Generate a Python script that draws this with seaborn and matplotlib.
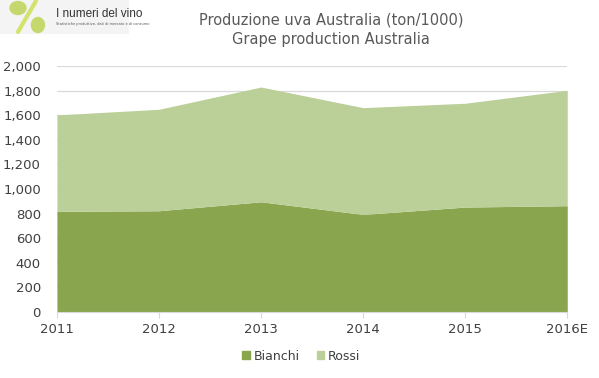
import numpy as np
import pandas as pd
import matplotlib
matplotlib.use("Agg")
import matplotlib.pyplot as plt
import seaborn as sns
from matplotlib.patches import Patch, Ellipse

years = ["2011", "2012", "2013", "2014", "2015", "2016E"]
bianchi = [818, 823, 896, 793, 853, 864]
rossi = [785, 826, 934, 869, 845, 939]

col_bianchi = "#89A54E"
col_rossi = "#BBCF99"

df = pd.DataFrame({"anno": years, "Bianchi": bianchi, "Rossi": rossi})

sns.set_style("white")
plt.rcParams["font.family"] = ["Liberation Sans Narrow", "DejaVu Sans"]

fig = plt.figure(figsize=(5.99, 3.78), dpi=100)
ax = fig.add_axes([0.095, 0.175, 0.852, 0.65])

x = np.arange(len(df))
ax.stackplot(x, df["Bianchi"], df["Rossi"], colors=[col_bianchi, col_rossi],
             linewidth=0, zorder=2)

ax.set_xlim(0, len(df) - 1)
ax.set_ylim(0, 2000)
ax.set_yticks(np.arange(0, 2001, 200))
ax.set_yticklabels([f"{v:,}" for v in range(0, 2001, 200)])
ax.set_xticks(x)
ax.set_xticklabels(df["anno"])
ax.yaxis.grid(True, color="#D9D9D9", linewidth=0.9, zorder=0)
ax.set_axisbelow(True)

for s in ["top", "right", "left"]:
    ax.spines[s].set_visible(False)
ax.spines["bottom"].set_color("#D9D9D9")
ax.tick_params(axis="x", bottom=True, length=4, color="#D9D9D9",
               labelsize=9.5, pad=4)
ax.tick_params(axis="y", left=False, labelsize=9.5, pad=8)
for lab in ax.get_xticklabels() + ax.get_yticklabels():
    lab.set_color("#404040")

fig.text(0.553, 0.922, "Produzione uva Australia (ton/1000)\nGrape production Australia",
         ha="center", va="center", fontsize=10.5, color="#595959", linespacing=1.35)

handles = [Patch(color=col_bianchi, label="Bianchi"), Patch(color=col_rossi, label="Rossi")]
fig.legend(handles=handles, loc="center", bbox_to_anchor=(0.503, 0.058), ncol=2,
           frameon=False, fontsize=9, handlelength=0.6, handleheight=0.6,
           handletextpad=0.3, columnspacing=1.4, labelcolor="#404040")

# piccolo logo in alto a sinistra
logo = fig.add_axes([0.0, 0.91, 0.215, 0.09])
logo.set_xlim(0, 129)
logo.set_ylim(0, 34)
logo.axis("off")
logo.add_patch(plt.Rectangle((0, 0), 129, 34, color="#F4F4F4", zorder=0))
logo.add_patch(Ellipse((18, 26), 16, 13, color="#C5D86D", zorder=2))
logo.add_patch(Ellipse((38, 9), 13, 15, color="#C5D86D", zorder=2))
logo.plot([18, 36], [2, 33], color="#D4E36E", linewidth=3, zorder=1)
logo.text(56, 20, "I numeri del vino", fontsize=8.5, color="#333333", va="center",
          family=["Liberation Sans", "DejaVu Sans"])
logo.text(56, 10, "Statistiche produttive, dati di mercato e di consumo", fontsize=2.5,
          color="#555555", va="center")

fig.savefig("out.png", dpi=100)
